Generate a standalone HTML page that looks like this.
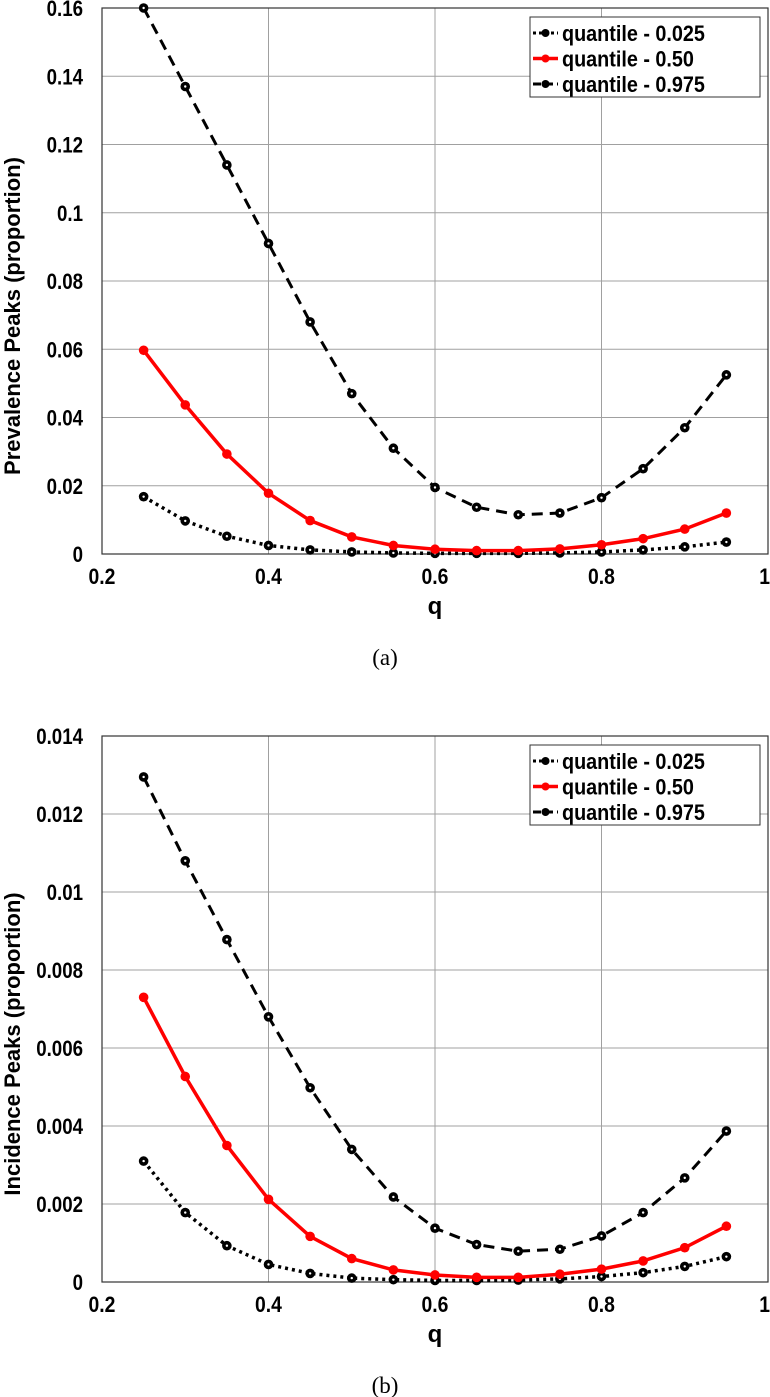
<!DOCTYPE html>
<html><head><meta charset="utf-8"><style>
body{margin:0;background:#fff;}
svg{display:block;font-family:"Liberation Sans",Arial,sans-serif;}
</style></head><body>
<svg id="fig" width="770" height="1397" viewBox="0 0 770 1397"></svg>
<script>
const qValues=[0.25,0.30,0.35,0.40,0.45,0.50,0.55,0.60,0.65,0.70,0.75,0.80,0.85,0.90,0.95];
const xTicks=[0.2,0.4,0.6,0.8,1];
const xTickLabels=["0.2","0.4","0.6","0.8","1"];
const prevQ975=[0.160,0.137,0.114,0.091,0.068,0.047,0.031,0.0195,0.0137,0.0115,0.012,0.0165,0.025,0.037,0.0525];
const prevQ50=[0.0597,0.0437,0.0293,0.0178,0.0098,0.005,0.0025,0.0014,0.001,0.001,0.0015,0.0027,0.0045,0.0073,0.012];
const prevQ025=[0.0168,0.0097,0.0052,0.0025,0.0012,0.0006,0.0003,0.0002,0.0002,0.0002,0.0003,0.0006,0.0012,0.0021,0.0035];
const prevYTicks=[0,0.02,0.04,0.06,0.08,0.1,0.12,0.14,0.16];
const prevYLabels=["0","0.02","0.04","0.06","0.08","0.1","0.12","0.14","0.16"];
const incQ975=[0.01295,0.0108,0.00878,0.0068,0.00498,0.0034,0.00218,0.00138,0.00096,0.00079,0.00084,0.00118,0.00178,0.00267,0.00387];
const incQ50=[0.0073,0.00527,0.0035,0.00212,0.00117,0.0006,0.00031,0.00018,0.00012,0.00012,0.0002,0.00033,0.00054,0.00088,0.00143];
const incQ025=[0.0031,0.00178,0.00093,0.00045,0.00022,0.0001,0.00006,0.00004,0.00004,0.00005,0.00008,0.00014,0.00024,0.0004,0.00065];
const incYTicks=[0,0.002,0.004,0.006,0.008,0.01,0.012,0.014];
const incYLabels=["0","0.002","0.004","0.006","0.008","0.01","0.012","0.014"];
const legendLabels=["quantile - 0.025","quantile - 0.50","quantile - 0.975"];

const NS="http://www.w3.org/2000/svg";
const svg=document.getElementById('fig');
function mk(tag,attrs,parent){const e=document.createElementNS(NS,tag);for(const k in attrs)e.setAttribute(k,attrs[k]);(parent||svg).appendChild(e);return e;}

function drawPanel(o){
  const L=102,R=768,T=o.top,B=o.top+546;
  const g=mk('g',{});
  
  
  const xs=v=>L+(v-0.2)/0.8*(R-L);
  const ys=v=>B-v/o.ymax*(B-T);
  xTicks.forEach((t,i)=>{
    const l=mk('line',{x1:xs(t),x2:xs(t),y1:T,y2:B,stroke:'#a0a0a0','stroke-width':1},g);
    
    
    const last=i===xTicks.length-1;
    const tx=mk('text',{x:0,y:0,'text-anchor':last?'end':'middle','font-size':22,'font-weight':'bold',transform:`translate(${last?770:xs(t)},${B+30}) scale(0.88,1)`},g);
    tx.textContent=xTickLabels[i];
    
    
  });
  o.yticks.forEach((t,i)=>{
    const l=mk('line',{x1:L,x2:R,y1:ys(t),y2:ys(t),stroke:'#a0a0a0','stroke-width':1},g);
    
    
    const tx=mk('text',{x:0,y:0,'text-anchor':'end','font-size':22,'font-weight':'bold',transform:`translate(83,${ys(t)+8}) scale(0.85,1)`},g);
    tx.textContent=o.ylabels[i];
    
    
  });
  const box=mk('rect',{x:L,y:T,width:R-L,height:B-T,fill:'none',stroke:'#333','stroke-width':1.2},g);
  
  
  const xl=mk('text',{x:(L+R)/2,y:B+60,'text-anchor':'middle','font-size':24,'font-weight':'bold'},g);
  xl.textContent='q';
  
  
  const yl=mk('text',{x:0,y:0,'text-anchor':'middle','font-size':22,'font-weight':'bold',transform:`translate(20,${(T+B)/2+35}) rotate(-90)`},g);
  yl.textContent=o.ytitle;
  
  
  const cap=mk('text',{x:385,y:B+111,'text-anchor':'middle','font-size':23,'font-family':'"Liberation Serif",serif'},g);
  cap.textContent=o.caption;
  
  
  const series=[
    {d:o.s025,color:'#000',dash:'3,4',w:3.5,name:'series-q025',hollow:true},
    {d:o.s975,color:'#000',dash:'11,7',w:3,name:'series-q975',hollow:true},
    {d:o.s50,color:'#ff0000',dash:'',w:3.5,name:'series-q50',hollow:false}
  ];
  series.forEach(s=>{
    const pts=qValues.map((q,i)=>xs(q)+','+ys(s.d[i])).join(' ');
    const pl=mk('polyline',{points:pts,fill:'none',stroke:s.color,'stroke-width':s.w,'stroke-dasharray':s.dash},g);
    
    
    qValues.forEach((q,i)=>{
      const c=mk('circle',{cx:xs(q),cy:ys(s.d[i]),r:4.8,fill:s.color},g);
      
      
      if(s.hollow){mk('circle',{cx:xs(q),cy:ys(s.d[i]),r:1.2,fill:'#fff'},g);}
    });
  });
  const lg=mk('g',{},g);
  
  
  mk('rect',{x:530,y:T+9,width:230,height:80,fill:'#fff',stroke:'#333','stroke-width':1},lg);
  const styles=[{c:'#000',d:'3,3',w:3},{c:'#ff0000',d:'',w:3.5},{c:'#000',d:'8,4',w:3}];
  legendLabels.forEach((lab,i)=>{
    const y=T+25+i*25.5;
    const e=mk('g',{},lg);
    
    
    mk('line',{x1:533,x2:558,y1:y,y2:y,stroke:styles[i].c,'stroke-width':styles[i].w,'stroke-dasharray':styles[i].d},e);
    mk('circle',{cx:545.5,cy:y,r:4,fill:styles[i].c},e);
    const t=mk('text',{x:0,y:0,'font-size':22,'font-weight':'bold',transform:`translate(562,${y+8}) scale(0.9,1)`},e);
    t.textContent=lab;
  });
}
drawPanel({name:'prevalence-panel',top:8,ymax:0.16,yticks:prevYTicks,ylabels:prevYLabels,ytitle:'Prevalence Peaks (proportion)',caption:'(a)',s025:prevQ025,s50:prevQ50,s975:prevQ975});
drawPanel({name:'incidence-panel',top:736,ymax:0.014,yticks:incYTicks,ylabels:incYLabels,ytitle:'Incidence Peaks (proportion)',caption:'(b)',s025:incQ025,s50:incQ50,s975:incQ975});
</script>
</body></html>
